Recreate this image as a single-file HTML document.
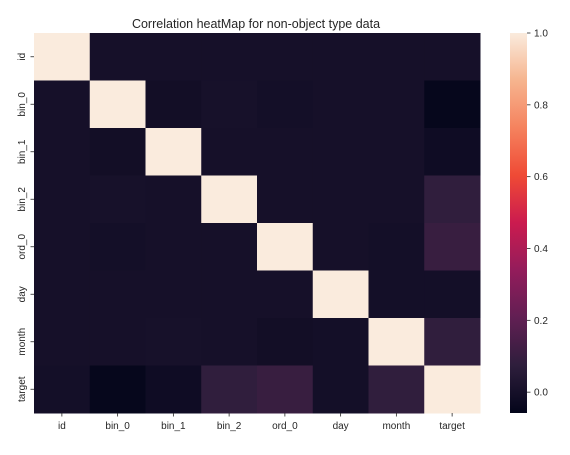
<!DOCTYPE html>
<html><head><meta charset="utf-8"><style>
body{margin:0;background:#fff;width:570px;height:450px;overflow:hidden}
text{font-family:"Liberation Sans","DejaVu Sans",sans-serif;fill:#262626}
</style></head><body>
<svg id="chart" width="570" height="450" xmlns="http://www.w3.org/2000/svg">
<text x="256" y="28" text-anchor="middle" font-size="12.5">Correlation heatMap for non-object type data</text>
<g id="cells"></g><g id="axes"></g><g id="cbar"></g>
</svg>
<script>
const labels=["id","bin_0","bin_1","bin_2","ord_0","day","month","target"];
const row0=[1,0.0,0.0,0.0,0.0,0.0,0.0,0.0];
const row1=[0.0,1,-0.01,0.005,-0.005,0.0,0.0,-0.05];
const row2=[0.0,-0.01,1,0.0,0.0,0.0,0.0,-0.02];
const row3=[0.0,0.005,0.0,1,0.0,0.0,0.0,0.08];
const row4=[0.0,-0.005,0.0,0.0,1,0.0,-0.005,0.1];
const row5=[0.0,0.0,0.0,0.0,0.0,1,-0.005,-0.005];
const row6=[0.0,0.0,0.005,0.0,-0.01,-0.005,1,0.08];
const row7=[-0.005,-0.05,-0.02,0.08,0.1,-0.005,0.08,1];
const matrix=[row0,row1,row2,row3,row4,row5,row6,row7];
const cbTicks=[0.0,0.2,0.4,0.6,0.8,1.0];
const vmin=-0.058,vmax=1.0;
const L=34,R=480,T=33,B=413,CL=510,CR=527;
const NS="http://www.w3.org/2000/svg";
const stops=["#03051a","#2e1e3c","#611f53","#931c5b","#cb1b4f","#ef4a35","#f5825e","#f6b48e","#faebdd"];
function hex(c){return [1,3,5].map(i=>parseInt(c.substr(i,2),16));}
function cmap(v){let t=(v-vmin)/(vmax-vmin);t=Math.max(0,Math.min(1,t));const p=t*(stops.length-1),i=Math.min(stops.length-2,Math.floor(p)),f=p-i;const a=hex(stops[i]),b=hex(stops[i+1]);return "rgb("+a.map((x,k)=>Math.round(x+(b[k]-x)*f)).join(",")+")";}
const n=labels.length,cw=(R-L)/n,ch=(B-T)/n;
const xS=i=>L+i*cw, yS=i=>T+i*ch, cy=v=>B-(v-vmin)/(vmax-vmin)*(B-T);
function mk(tag,at,par){const e=document.createElementNS(NS,tag);for(const k in at)e.setAttribute(k,at[k]);par.appendChild(e);return e;}
const cells=document.getElementById("cells"),axes=document.getElementById("axes"),cb=document.getElementById("cbar");
matrix.forEach((row,r)=>row.forEach((v,c)=>{const e=mk("rect",{x:xS(c),y:yS(r),width:cw+0.5,height:ch+0.5,fill:cmap(v)},cells);

}));
labels.forEach((l,i)=>{const x=xS(i)+cw/2,y=yS(i)+ch/2;
mk("line",{x1:x,x2:x,y1:B,y2:B+3.5,stroke:"#262626","stroke-width":0.8},axes);
const t=mk("text",{x:x,y:B+16,"text-anchor":"middle","font-size":10},axes);t.textContent=l;


mk("line",{x1:L-3.5,x2:L,y1:y,y2:y,stroke:"#262626","stroke-width":0.8},axes);
const u=mk("text",{x:0,y:0,"text-anchor":"middle","font-size":10,transform:"translate("+(L-9)+","+y+") rotate(-90)"},axes);u.textContent=l;

});
const defs=mk("defs",{},cb);const g=mk("linearGradient",{id:"cg",x1:0,y1:1,x2:0,y2:0},defs);
stops.forEach((s,i)=>mk("stop",{offset:i/(stops.length-1),"stop-color":s},g));
const bar=mk("rect",{x:CL,y:T,width:CR-CL,height:B-T,fill:"url(#cg)"},cb);


cbTicks.forEach(v=>{const y=cy(v);mk("line",{x1:CR,x2:CR+3.5,y1:y,y2:y,stroke:"#262626","stroke-width":0.8},cb);
const t=mk("text",{x:CR+7,y:y+3.5,"font-size":10},cb);t.textContent=v.toFixed(1);

});
</script>
</body></html>
